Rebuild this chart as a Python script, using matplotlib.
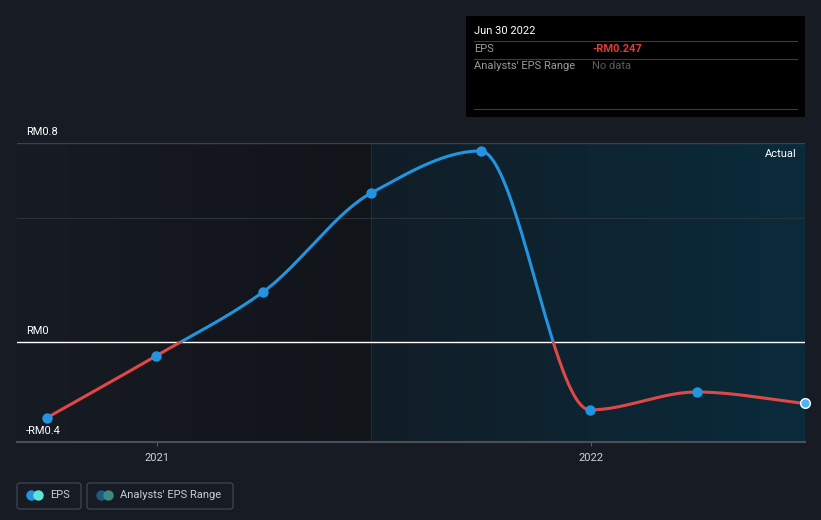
import numpy as np
import matplotlib
matplotlib.use("Agg")
import matplotlib.pyplot as plt
import matplotlib.dates as mdates
from matplotlib.patches import Rectangle, FancyBboxPatch
from datetime import datetime

plt.rcParams['font.family'] = ['Roboto', 'DejaVu Sans']

# data
dates = ["2020-09-30", "2020-12-31", "2021-03-31", "2021-06-30",
         "2021-09-30", "2021-12-31", "2022-03-31", "2022-06-30"]
eps = [-0.305, -0.056, 0.201, 0.599, 0.768, -0.273, -0.201, -0.247]
y_labels = ["RM0.8", "RM0", "-RM0.4"]
y_label_vals = [0.8, 0.0, -0.4]
x_ticks = ["2021-01-01", "2022-01-01"]
x_tick_labels = ["2021", "2022"]
tip_date = "Jun 30 2022"
tip_eps = "-RM0.247"

W, H = 821, 520
BG = "#171b24"
BLUE = "#2394df"
RED = "#e04848"

def d2n(s):
    return mdates.date2num(datetime.strptime(s, "%Y-%m-%d"))

def px(x, y):
    return x / W, 1 - y / H

def pchip(x, y, xs):
    x = np.asarray(x, float); y = np.asarray(y, float)
    h = np.diff(x); d = np.diff(y) / h
    n = len(x)
    m = np.zeros(n)
    m[0] = d[0]; m[-1] = d[-1]
    for k in range(1, n - 1):
        if d[k - 1] * d[k] <= 0:
            m[k] = 0
        else:
            w1 = 2 * h[k] + h[k - 1]
            w2 = h[k] + 2 * h[k - 1]
            m[k] = (w1 + w2) / (w1 / d[k - 1] + w2 / d[k])
    out = np.empty_like(xs)
    idx = np.clip(np.searchsorted(x, xs) - 1, 0, n - 2)
    for i, xv in enumerate(xs):
        k = idx[i]
        t = (xv - x[k]) / h[k]
        h00 = 2*t**3 - 3*t**2 + 1
        h10 = t**3 - 2*t**2 + t
        h01 = -2*t**3 + 3*t**2
        h11 = t**3 - t**2
        out[i] = h00*y[k] + h10*h[k]*m[k] + h01*y[k+1] + h11*h[k]*m[k+1]
    return out

xd = np.array([d2n(s) for s in dates])
x0 = d2n("2020-09-05")
x1 = xd[-1]
ymin, ymax = -0.402, 0.8

fig = plt.figure(figsize=(W / 100, H / 100), dpi=100, facecolor=BG)
ax = fig.add_axes([17 / W, (H - 442) / H, (805 - 17) / W, (442 - 143) / H])
ax.set_facecolor(BG)

def hexrgb(c):
    c = c.lstrip('#')
    return np.array([int(c[i:i+2], 16) / 255 for i in (0, 2, 4)])

def gradient(xa, xb, c1, c2):
    t = np.linspace(0, 1, 256)[None, :, None]
    img = hexrgb(c1)[None, None, :] * (1 - t) + hexrgb(c2)[None, None, :] * t
    ax.imshow(img, extent=[xa, xb, ymin, ymax], aspect='auto', zorder=0,
              interpolation='bilinear')

split = xd[3]
gradient(x0, split, "#171b23", "#111419")
gradient(split, x1, "#111d27", "#0a2b3b")
ax.axvline(split, color="#1b2e3c", lw=0.8, zorder=1)
ax.set_xlim(x0, x1)
ax.set_ylim(ymin, ymax)

# grid
ax.axhline(0.8, color="#3c414b", lw=1, zorder=1)
ax.axhline(0.5, color="#2a323c", lw=0.8, zorder=1)
ax.axhline(0.0, color="white", lw=1, zorder=2)

# curve
xs = np.linspace(xd[0], xd[-1], 800)
ys = pchip(xd, eps, xs)
lb, = ax.plot(xs, ys, color=BLUE, lw=2.2, zorder=3, solid_capstyle='round')
lr, = ax.plot(xs, ys, color=RED, lw=2.2, zorder=3, solid_capstyle='round')
clip_pos = Rectangle((x0, 0), x1 - x0, ymax + 1, transform=ax.transData)
clip_neg = Rectangle((x0, ymin - 1), x1 - x0, 1 - ymin, transform=ax.transData)
lb.set_clip_path(clip_pos)
lr.set_clip_path(clip_neg)
ax.plot(xd[:-1], eps[:-1], 'o', color=BLUE, ms=6.5, zorder=4, mec=BLUE)
ax.plot(xd[-1:], eps[-1:], 'o', color="#4fb3f0", ms=7, zorder=4, mec="white",
        mew=1, clip_on=False)

for s in ax.spines.values():
    s.set_visible(False)
ax.set_yticks([])
ax.set_xticks([d2n(s) for s in x_ticks])
ax.set_xticklabels(x_tick_labels, color="#d0d2d6", fontsize=8)
ax.tick_params(axis='x', length=3, color="#555a63", pad=5)
ax.axhline(ymin, color="#4a4f58", lw=1.5, zorder=2, clip_on=False)

# y labels
for lab, v in zip(y_labels, y_label_vals):
    yy = ax.transData.transform((x0, v))[1]
    fig.text(26 / W, yy / H + 6 / H, lab, color="white", fontsize=8,
             ha='left', va='bottom')

fig.text(*px(797, 154), "Actual", color="white", fontsize=8, ha='right', va='center')

# tooltip
fig.patches.append(Rectangle(px(466, 117), (805 - 466) / W, (117 - 16) / H,
                             transform=fig.transFigure, facecolor="black",
                             edgecolor="none", zorder=5))
for yl in (41, 59, 109):
    fig.add_artist(plt.Line2D([474 / W, 797 / W], [1 - yl / H] * 2,
                              transform=fig.transFigure, color="#3c3c3c", lw=0.8, zorder=6))
fig.text(*px(474, 31), tip_date, color="white", fontsize=8, va='center', zorder=7)
fig.text(*px(474, 49), "EPS", color="#9a9a9a", fontsize=8, va='center', zorder=7)
fig.text(*px(592, 49), tip_eps, color="#e03a3a", fontsize=8, va='center',
         fontweight='bold', zorder=7)
fig.text(*px(474, 66), "Analysts' EPS Range", color="#9a9a9a", fontsize=8,
         va='center', zorder=7)
fig.text(*px(592, 66), "No data", color="#5c5c5c", fontsize=8, va='center', zorder=7)

# legend
def legend_box(xa, xb, c1, c2, label):
    fig.patches.append(FancyBboxPatch(px(xa, 509), (xb - xa) / W, 26 / H,
                                      boxstyle="round,pad=0,rounding_size=0.004",
                                      transform=fig.transFigure, facecolor="none",
                                      edgecolor="#3c414b", lw=1))
    for cx, c in ((xa + 14, c1), (xa + 21, c2)):
        fig.add_artist(plt.Line2D([cx / W], [1 - 494.5 / H], marker='o', ms=7.5,
                                  color=c, mec='none', transform=fig.transFigure))
    fig.text(*px(xa + 33, 495), label, color="#c9ccd2", fontsize=8, va='center')

legend_box(17, 81, BLUE, "#5fe3d9", "EPS")
legend_box(87, 233, "#1f5a82", "#3b8a86", "Analysts' EPS Range")

fig.savefig("out.png", dpi=100, facecolor=BG)
